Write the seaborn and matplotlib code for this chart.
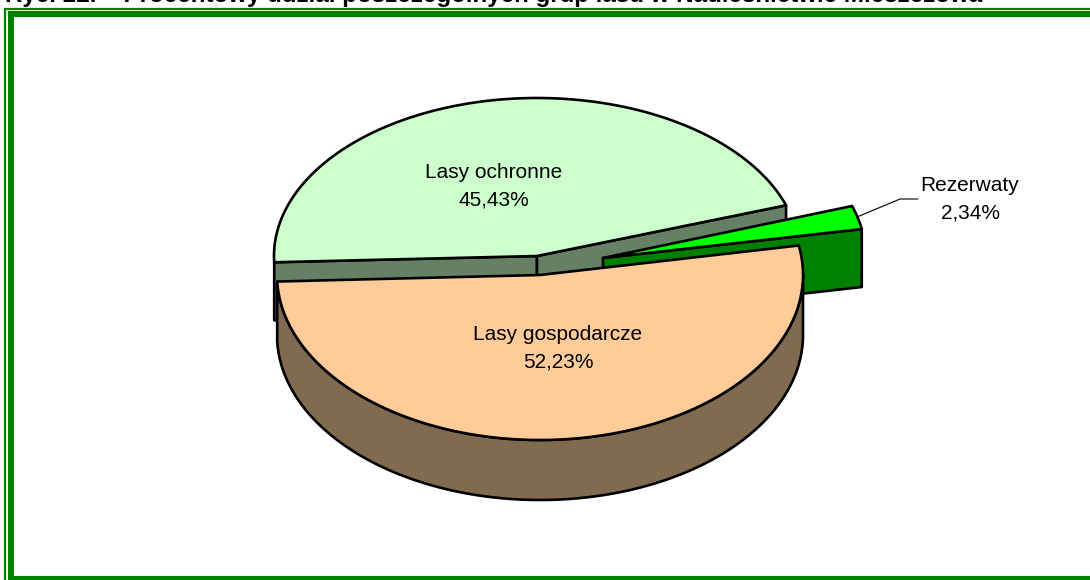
import numpy as np
import seaborn as sns
import matplotlib
matplotlib.use("Agg")
import matplotlib.pyplot as plt

# dane
nazwy = ["Lasy gospodarcze", "Lasy ochronne", "Rezerwaty"]
udzialy = [52.23, 45.43, 2.34]
etykiety = ["52,23%", "45,43%", "2,34%"]
tytul = "Ryc. 22.    Procentowy udział poszczególnych grup lasu w Nadleśnictwie Mieszczowa"

# kolory: gora, bok
kolory_gora = sns.color_palette(["#FFCC99", "#CCFFCC", "#00FF00"])
kolory_bok = sns.color_palette(["#806A50", "#668066", "#008000"])
zielen = "#008000"

# geometria wykresu w pikselach
srodki = [(540, 275), (537, 256), (603, 258)]
rx = 263
ry = [165, 158, 162]
glebokosc = [60, 58, 58]
start = 10.3  # kat poczatkowy, pozostale wynikaja z udzialow
grubosc = 1.9

sns.set_theme(style="white")
plt.rcParams["font.family"] = ["Liberation Sans", "DejaVu Sans"]

fig = plt.figure(figsize=(10.9, 5.8), dpi=100)
ax = fig.add_axes([0, 0, 1, 1])
ax.set_xlim(0, 1090)
ax.set_ylim(580, 0)
ax.axis("off")


def luk(i, a1, a2):
    t = np.radians(np.linspace(a1, a2, 200))
    return srodki[i][0] + rx * np.cos(t), srodki[i][1] - ry[i] * np.sin(t)


def bok_ciety(i, a):
    c = srodki[i]
    x, y = luk(i, a, a)
    xs = [c[0], x[0], x[0], c[0]]
    ys = [c[1], y[0], y[0] + glebokosc[i], c[1] + glebokosc[i]]
    ax.fill(xs, ys, facecolor=kolory_bok[i], edgecolor="black", lw=grubosc, joinstyle="round")


def bok_luku(i, a1, a2):
    x, y = luk(i, a1, a2)
    xs = np.r_[x, x[::-1]]
    ys = np.r_[y, y[::-1] + glebokosc[i]]
    ax.fill(xs, ys, facecolor=kolory_bok[i], edgecolor="black", lw=grubosc, joinstyle="round")


def gora(i, a1, a2):
    c = srodki[i]
    x, y = luk(i, a1, a2)
    ax.fill(np.r_[c[0], x], np.r_[c[1], y], facecolor=kolory_gora[i], edgecolor="black", lw=grubosc, joinstyle="round")


# katy wycinkow (zgodnie ze wskazowkami zegara)
katy = start - np.cumsum([0] + [u * 3.6 for u in udzialy])

# lasy ochronne
a1, a2 = katy[1] + 360, katy[2] + 360
bok_ciety(1, a1)
bok_ciety(1, a2)
gora(1, a1, a2)

# rezerwaty
a1, a2 = katy[2] + 360, katy[3] + 360
bok_ciety(2, a2)
gora(2, a1, a2)

# lasy gospodarcze
a1, a2 = katy[0], katy[1]
bok_luku(0, 0, a2)
gora(0, a1, a2)

# opisy
ax.text(494, 186, f"{nazwy[1]}\n{etykiety[1]}", ha="center", va="center", fontsize=15, linespacing=1.55, color="black")
ax.text(558, 348, f"{nazwy[0]}\n{etykiety[0]}", ha="center", va="center", fontsize=15, linespacing=1.55, color="black")
ax.text(970, 199, f"{nazwy[2]}\n{etykiety[2]}", ha="center", va="center", fontsize=15, linespacing=1.55, color="black")
ax.plot([857, 900, 918], [217, 199, 199], color="black", lw=0.8)

# ramka
ax.plot([5, 5], [580, 8], color=zielen, lw=1.6, solid_capstyle="butt")
ax.plot([4, 1090], [9, 9], color=zielen, lw=1.6, solid_capstyle="butt")
ax.plot([11, 11], [580, 11], color=zielen, lw=4.3, solid_capstyle="butt")
ax.plot([8, 1090], [14, 14], color=zielen, lw=4.3, solid_capstyle="butt")
ax.plot([8, 1090], [578, 578], color=zielen, lw=3, solid_capstyle="butt")

# tytul uciety od gory
ax.text(5, 2, tytul, ha="left", va="baseline", fontsize=17.4, fontweight="bold", color="black")

fig.savefig("out.png", dpi=100)
